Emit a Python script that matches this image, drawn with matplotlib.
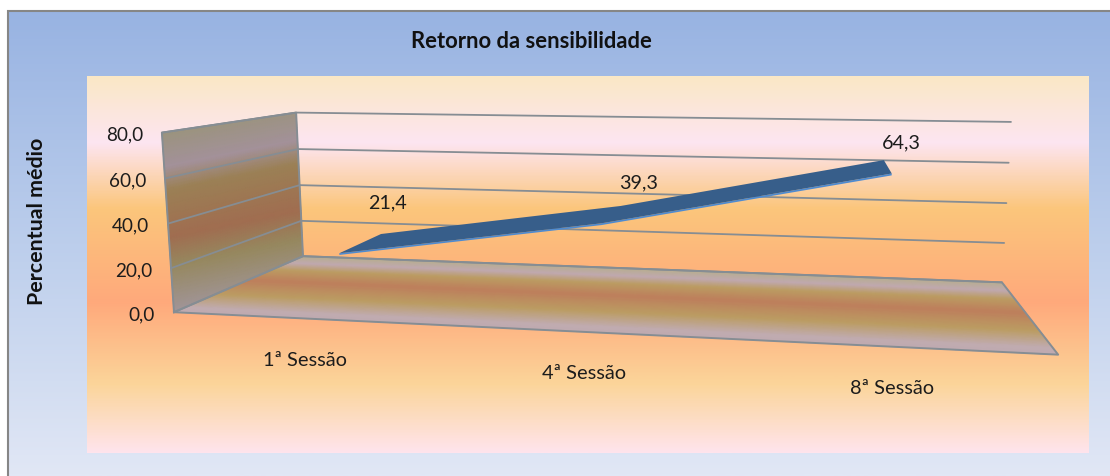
import numpy as np
import matplotlib
matplotlib.use("Agg")
import matplotlib.pyplot as plt
from matplotlib.colors import LinearSegmentedColormap as Ramp
from matplotlib.patches import Polygon

plt.rcParams['font.family'] = ['Lato', 'DejaVu Sans']

# Chart content
title = "Retorno da sensibilidade"
axis_label = "Percentual médio"
sessions = ["1ª Sessão", "4ª Sessão", "8ª Sessão"]
percent = [21.4, 39.3, 64.3]
ticks = [0, 20, 40, 60, 80]
v_max = 80

# Value label nudges relative to the far edge of the ribbon
label_dx = [6, 18, 17]
label_dy = [-31, -23, -17]

# Box corners (category fraction, value, depth) and where they land on the canvas
box_corners = [(0, 0, 0), (0, 80, 0), (0, 0, 1), (0, 80, 1), (1, 0, 1), (1, 80, 1), (1, 0, 0)]
canvas_corners = [(174, 312.5), (162, 132), (303, 256), (296, 113), (1002, 282), (1011, 122), (1058, 355)]


def camera(world, image):
    """Direct linear transform: a 3x4 projection from point pairs."""
    rows = []
    for (u, v, w), (x, y) in zip(world, image):
        x, y, p = x / 1000, y / 1000, [u, v / v_max, w, 1]
        rows.append(p + [0] * 4 + [-x * c for c in p])
        rows.append([0] * 4 + p + [-y * c for c in p])
    return np.linalg.svd(np.array(rows))[2][-1].reshape(3, 4)


P = camera(box_corners, canvas_corners)


def project(u, v, w):
    u, v, w = np.broadcast_arrays(np.asarray(u, float), np.asarray(v, float), np.asarray(w, float))
    h = np.stack([u, v / v_max, w, np.ones_like(u)], axis=-1) @ P.T
    return 1000 * h[..., 0] / h[..., 2], 1000 * h[..., 1] / h[..., 2]


fig = plt.figure(figsize=(11.10, 4.76), dpi=100, facecolor="white")
ax = fig.add_axes([0, 0, 1, 1])
ax.axis("off")

# Chart area and plot area backgrounds
outer = Ramp.from_list("outer", [(0, "#98B3E2"), (0.5, "#BCCEEC"), (1, "#E1E7F5")])
inner = Ramp.from_list("inner", [(0, "#FAE8C6"), (0.175, "#FDE5F1"), (0.35, "#FBC67C"),
                                 (0.6, "#FFA97B"), (0.82, "#FBD59A"), (1, "#FFE4EC")])
ramp = np.linspace(0, 1, 400)[:, None]
ax.imshow(ramp, cmap=outer, extent=(8, 1110, 476, 11), aspect="auto", zorder=0)
ax.imshow(ramp, cmap=inner, extent=(87, 1089, 453, 76), aspect="auto", zorder=1)
ax.plot([8, 8, 1110], [476, 11, 11], color="#868686", lw=1.5, zorder=2, solid_joinstyle="miter")

# Shaded side wall and floor
wall_ramp = Ramp.from_list("wall", [(0, "#A1959A"), (0.26, "#96885F"), (0.42, "#A06D50"),
                                    (0.68, "#9B8055"), (0.81, "#A3919A"), (1, "#9B937E")])
floor_ramp = Ramp.from_list("floor", [(0, "#BFAAB0"), (0.08, "#C0ABB0"), (0.28, "#BB9C62"),
                                      (0.52, "#BD7F5C"), (0.72, "#BB9C62"), (0.86, "#C0A9B0"),
                                      (1, "#B8AD92")])
g = np.linspace(0, 1, 60)
a, b = np.meshgrid(g, g)
X, Y = project(0, b * v_max, a)
# The wall shading bands rise more gently than the gridlines
shade = np.clip((315 - (Y + 0.2 * (X - 162))) / 185, 0, 1)
ax.pcolormesh(X, Y, shade, cmap=wall_ramp, shading="gouraud", zorder=3, rasterized=True)
X, Y = project(a, 0, b)
ax.pcolormesh(X, Y, b, cmap=floor_ramp, shading="gouraud", zorder=3, rasterized=True)

# Gridlines on the back and side walls
edge = "#868D93"
for t in ticks:
    x, y = project([0, 0, 1], t, [0, 1, 1])
    ax.plot(x, y, color=edge, lw=1.3, zorder=4, solid_capstyle="round")
    label_x, label_y = project(0, t, 0)
    ax.text(label_x - 19, label_y + 2.2, f"{t:.1f}".replace(".", ","), ha="right", va="center",
            fontsize=13.6, color="#1c1c1c", zorder=7)

# Box outlines
for pts in ([(0, 0, 0), (0, 80, 0), (0, 80, 1), (0, 0, 1), (0, 0, 0)],
            [(0, 0, 0), (1, 0, 0), (1, 0, 1), (0, 0, 1)]):
    u, v, w = zip(*pts)
    x, y = project(u, v, w)
    ax.plot(x, y, color=edge, lw=1.4, zorder=4, solid_joinstyle="round")

# Ribbon line: top face plus a thin lighter lip along its near edge
centres = (np.arange(len(percent)) + 0.5) / len(percent)
values = np.array(percent)
near, far = 0.3, 0.7
fx, fy = project(centres, values, near)
bx, by = project(centres, values, far)
lx, ly = project(centres, values - 0.8, near)
ax.add_patch(Polygon(np.r_[np.c_[fx, fy], np.c_[lx, ly][::-1]], closed=True, fc="#4F8BD0", ec="none", zorder=5))
ax.add_patch(Polygon(np.r_[np.c_[fx, fy], np.c_[bx, by][::-1]], closed=True, fc="#375E8A", ec="none", zorder=6))

# Value labels above the ribbon
for val, x, y, dx, dy in zip(percent, bx, by, label_dx, label_dy):
    ax.text(x + dx, y + dy, f"{val:.1f}".replace(".", ","), ha="center", va="center",
            fontsize=14.2, color="#1c1c1c", zorder=7)

# Category labels under the floor
cx, cy = project(centres, 0, 0)
for name, x, y in zip(sessions, cx, cy):
    ax.text(x, y + 42, name, ha="center", va="center", fontsize=14.4, color="#1c1c1c", zorder=7)

ax.text(531, 41.5, title, ha="center", va="center", fontsize=15.8, fontweight="bold", color="#111111", zorder=7)
ax.text(37, 221, axis_label, ha="center", va="center", rotation=90, fontsize=15.4,
        fontweight="bold", color="#111111", zorder=7)

ax.set_xlim(0, 1110)
ax.set_ylim(476, 0)
fig.savefig("out.png", dpi=100)
